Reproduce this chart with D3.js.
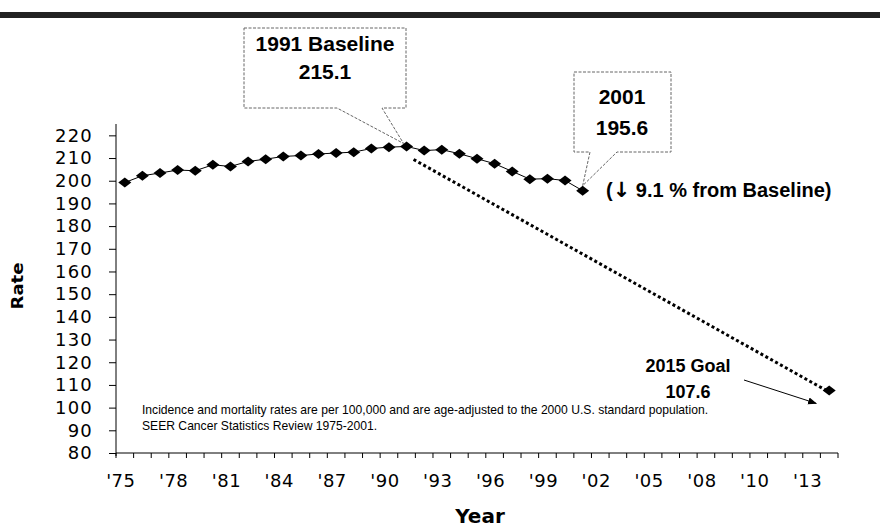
<!DOCTYPE html>
<html>
<head>
<meta charset="utf-8">
<script src="https://cdn.jsdelivr.net/npm/d3@7"></script>
<style>
    body { margin: 0; background: #fff; }
    svg { display: block; }
</style>
</head>
<body>
<div id="chart"></div>
<script>
// observed rates, 1975-2001
const years = d3.range(1975, 2002);
const rates = [199.2, 202.2, 203.4, 204.7, 204.4, 207.0, 206.3, 208.5, 209.5, 210.7,
    211.1, 211.8, 212.2, 212.6, 214.2, 214.8, 215.1, 213.3, 213.7, 211.9,
    209.7, 207.5, 204.1, 200.7, 200.9, 200.1, 195.6];

// category axis runs to the goal year
const categories = d3.range(1975, 2016);
const tickLabels = ["'75", "'78", "'81", "'84", "'87", "'90", "'93", "'96", "'99", "'02", "'05", "'08", "'10", "'13"];
const yTicks = d3.range(80, 221, 10);

const baseline = { year: 1991, value: 215.1 };
const latest = { year: 2001, value: 195.6 };
const goal = { year: 2015, value: 107.6 };

const width = 880, height = 529;

const svg = d3.select('#chart').append('svg')
    .attr('width', width)
    .attr('height', height)
    .style('font-family', 'Liberation Sans, Arial, sans-serif');

svg.append('defs').append('marker')
    .attr('id', 'arrow')
    .attr('viewBox', '0 0 10 10')
    .attr('refX', 9).attr('refY', 5)
    .attr('markerWidth', 9).attr('markerHeight', 9)
    .attr('orient', 'auto')
    .append('path')
    .attr('d', 'M0,1 L10,5 L0,9 Z')
    .attr('fill', '#000');

// header rule
svg.append('rect')
    .attr('x', 0).attr('y', 12)
    .attr('width', width).attr('height', 6)
    .attr('fill', '#222');

const x = d3.scaleBand()
    .domain(categories)
    .range([116, 838])
    .padding(0);
const xc = d => x(d) + x.bandwidth() / 2;

const y = d3.scaleLinear()
    .domain([80, 225])
    .range([453, 124]);

// y axis
const yAxis = svg.append('g')
    .attr('transform', `translate(${x.range()[0]},0)`)
    .call(d3.axisLeft(y).tickValues(yTicks).tickSize(7).tickPadding(16));
yAxis.select('.domain').attr('d', `M0,${y.range()[1]}V${y.range()[0] + 3}`).attr('stroke', '#000');
yAxis.selectAll('.tick line').attr('stroke', '#000');
yAxis.selectAll('.tick text')
    .style('font-family', 'DejaVu Sans, sans-serif')
    .style('font-size', '18px')
    .style('letter-spacing', '1.2px')
    .attr('fill', '#000');

// x axis (category ticks between years)
const xAxis = svg.append('g');
xAxis.append('line')
    .attr('x1', x.range()[0]).attr('x2', x.range()[1])
    .attr('y1', y(80)).attr('y2', y(80))
    .attr('stroke', '#000');
const bounds = categories.map(c => x(c)).concat([x.range()[1]]);
xAxis.selectAll('line.tick')
    .data(bounds)
    .join('line')
    .attr('class', 'tick')
    .attr('x1', d => d).attr('x2', d => d)
    .attr('y1', y(80)).attr('y2', y(80) + 5)
    .attr('stroke', '#000');
xAxis.selectAll('text')
    .data(tickLabels)
    .join('text')
    .attr('x', (d, i) => xc(categories[i * 3]) - 4)
    .attr('y', y(80) + 34)
    .attr('text-anchor', 'middle')
    .style('font-family', 'DejaVu Sans, sans-serif')
    .style('font-size', '18px')
    .style('letter-spacing', '0.5px')
    .text(d => d);

// axis titles
svg.append('text')
    .attr('transform', 'translate(23,286) rotate(-90)')
    .attr('text-anchor', 'middle')
    .attr('textLength', 47)
    .attr('lengthAdjust', 'spacingAndGlyphs')
    .style('font-family', 'DejaVu Sans, sans-serif')
    .style('font-weight', 'bold')
    .style('font-size', '16px')
    .text('Rate');

svg.append('text')
    .attr('x', 480).attr('y', 523)
    .attr('text-anchor', 'middle')
    .style('font-family', 'DejaVu Sans, sans-serif')
    .style('font-weight', 'bold')
    .style('font-size', '20px')
    .text('Year');

// projection to the goal
svg.append('line')
    .attr('x1', xc(baseline.year) + 7).attr('y1', y(baseline.value) + 13)
    .attr('x2', xc(goal.year) - 3).attr('y2', y(goal.value))
    .attr('stroke', '#000')
    .attr('stroke-width', 3)
    .attr('stroke-dasharray', '3,2.6');

// observed series
const series = years.map((yr, i) => ({ year: yr, value: rates[i] }));
svg.append('path')
    .datum(series)
    .attr('fill', 'none')
    .attr('stroke', '#000')
    .attr('stroke-width', 1)
    .attr('d', d3.line().x(d => xc(d.year)).y(d => y(d.value)));

const diamond = 'M0,-5L6.5,0L0,5L-6.5,0Z';
svg.append('g')
    .selectAll('path')
    .data(series.concat([goal]))
    .join('path')
    .attr('d', diamond)
    .attr('transform', d => `translate(${xc(d.year)},${y(d.value)})`)
    .attr('fill', '#000');

// callouts
function callout(box, baseL, baseR, tip) {
    const p = d3.path();
    p.moveTo(box.x0, box.y0);
    p.lineTo(box.x1, box.y0);
    p.lineTo(box.x1, box.y1);
    p.lineTo(baseR, box.y1);
    p.lineTo(tip[0], tip[1]);
    p.lineTo(baseL, box.y1);
    p.lineTo(box.x0, box.y1);
    p.closePath();
    svg.append('path')
        .attr('d', p.toString())
        .attr('fill', 'none')
        .attr('stroke', '#666')
        .attr('stroke-width', 1)
        .attr('stroke-dasharray', '3,1.5');
}

callout({ x0: 244, y0: 28, x1: 406, y1: 108 }, 337, 382,
    [xc(baseline.year) - 3, y(baseline.value) - 3]);
callout({ x0: 574, y0: 72, x1: 671, y1: 152 }, 590, 617,
    [xc(latest.year), y(latest.value) - 5]);

const bold = sel => sel.style('font-weight', 'bold').attr('text-anchor', 'middle');

bold(svg.append('text')).attr('x', 325).attr('y', 51).style('font-size', '21px').text('1991 Baseline');
bold(svg.append('text')).attr('x', 325).attr('y', 79).style('font-size', '21px').text(baseline.value.toFixed(1));
bold(svg.append('text')).attr('x', 622).attr('y', 104).style('font-size', '21px').text(String(latest.year));
bold(svg.append('text')).attr('x', 622).attr('y', 135).style('font-size', '21px').text(latest.value.toFixed(1));

const drop = ((baseline.value - latest.value) / baseline.value * 100).toFixed(1);
const dropText = svg.append('text')
    .attr('x', 606).attr('y', 197)
    .style('font-weight', 'bold')
    .style('font-size', '20px');
dropText.append('tspan').text('(');
dropText.append('tspan')
    .style('font-family', 'DejaVu Sans, sans-serif')
    .style('font-size', '21px')
    .text('\u2193');
dropText.append('tspan').text(` ${drop} % from Baseline)`);

bold(svg.append('text')).attr('x', 688).attr('y', 372).style('font-size', '18px').text(`${goal.year} Goal`);
bold(svg.append('text')).attr('x', 688).attr('y', 398).style('font-size', '18px').text(goal.value.toFixed(1));

svg.append('line')
    .attr('x1', 744).attr('y1', 380)
    .attr('x2', xc(goal.year) - 13).attr('y2', y(goal.value) + 13)
    .attr('stroke', '#000')
    .attr('marker-end', 'url(#arrow)');

// footnote, squeezed to the narrow width of the original
const notes = [
    'Incidence and mortality rates are per 100,000 and are age-adjusted to the 2000 U.S. standard population.',
    'SEER Cancer Statistics Review 1975-2001.'
];
const noteText = svg.append('g')
    .selectAll('text')
    .data(notes)
    .join('text')
    .attr('x', 142)
    .attr('y', (d, i) => 414 + i * 16)
    .style('font-size', '13px')
    .text(d => d);
const squeeze = 566 / noteText.node().getComputedTextLength();
noteText.each(function () {
    d3.select(this)
        .attr('textLength', this.getComputedTextLength() * squeeze)
        .attr('lengthAdjust', 'spacingAndGlyphs');
});
</script>
</body>
</html>
